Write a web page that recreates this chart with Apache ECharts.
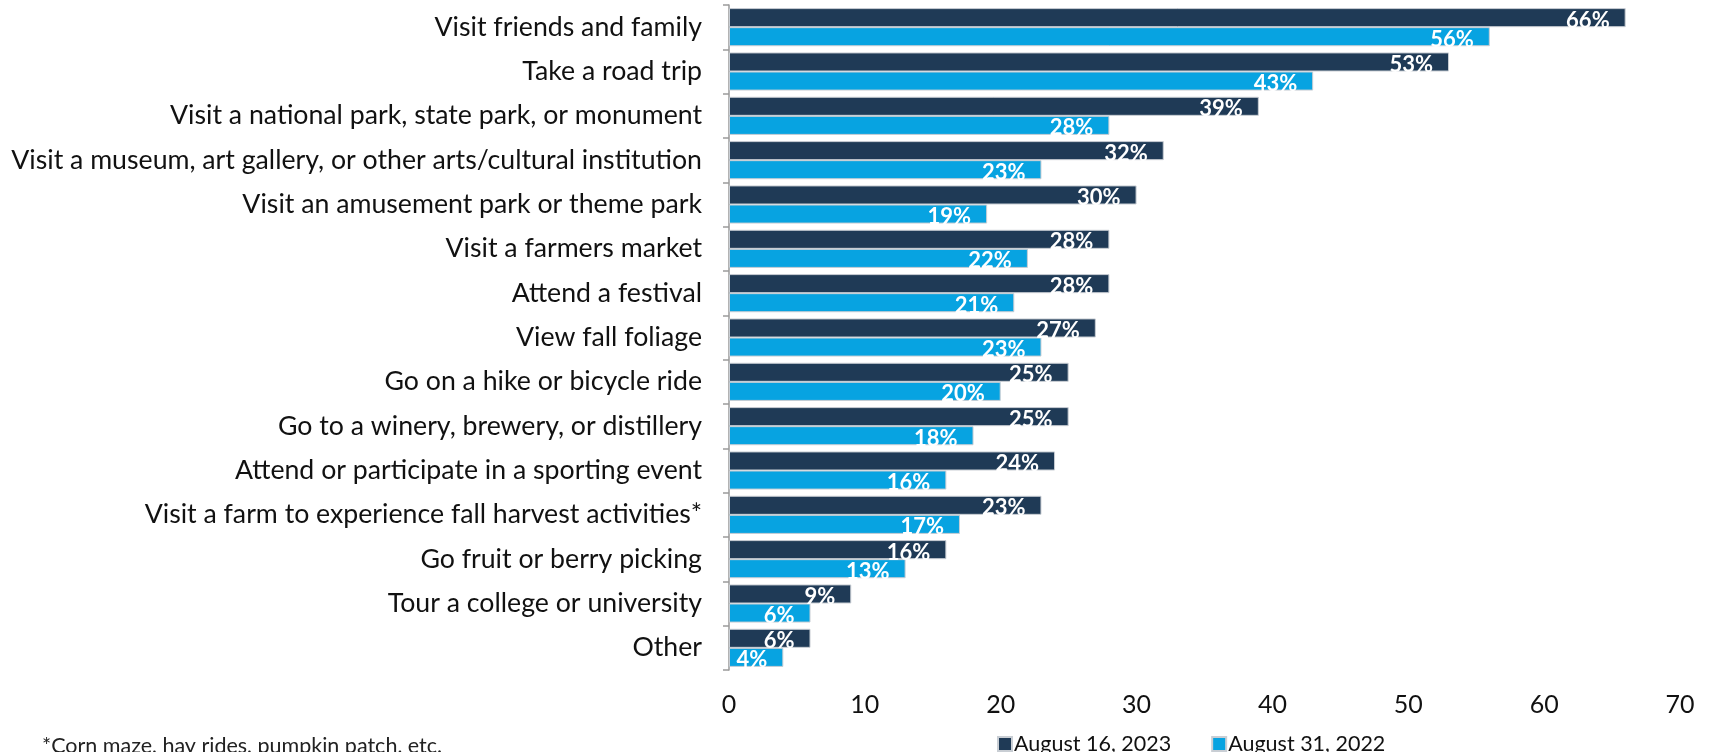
<!DOCTYPE html>
<html>
<head>
<meta charset="utf-8">
<script src="https://cdn.jsdelivr.net/npm/echarts@6/dist/echarts.min.js"></script>
<style>
  html, body { margin: 0; padding: 0; background: #fff; }
  #chart { width: 1713px; height: 752px; }
</style>
</head>
<body>
<div id="chart"></div>
<script>
// Fall activities, listed top to bottom
const categories = [
  'Visit friends and family',
  'Take a road trip',
  'Visit a national park, state park, or monument',
  'Visit a museum, art gallery, or other arts/cultural institution',
  'Visit an amusement park or theme park',
  'Visit a farmers market',
  'Attend a festival',
  'View fall foliage',
  'Go on a hike or bicycle ride',
  'Go to a winery, brewery, or distillery',
  'Attend or participate in a sporting event',
  'Visit a farm to experience fall harvest activities*',
  'Go fruit or berry picking',
  'Tour a college or university',
  'Other'
];
const seriesNames = ['August 16, 2023', 'August 31, 2022'];
const values2023 = [66, 53, 39, 32, 30, 28, 28, 27, 25, 25, 24, 23, 16, 9, 6];
const values2022 = [56, 43, 28, 23, 19, 22, 21, 23, 20, 18, 16, 17, 13, 6, 4];
const axisTicks = [0, 10, 20, 30, 40, 50, 60, 70];
const footnote = '*Corn maze, hay rides, pumpkin patch, etc.';

const FONT = 'Lato, "Open Sans", sans-serif';
const DARK = '#1f3a56';
const LIGHT = '#07a3e1';

const chart = echarts.init(document.getElementById('chart'));

function barSeries(name, data, color) {
  return {
    name: name,
    type: 'bar',
    data: data,
    barGap: '0%',
    barCategoryGap: '14%',
    itemStyle: { color: color, borderColor: '#c9ced4', borderWidth: 1 },
    label: {
      show: true,
      position: 'insideRight',
      distance: 16,
      offset: [0, 3],
      formatter: p => p.value + '%',
      color: '#fff',
      fontFamily: FONT,
      fontWeight: 'bold',
      fontSize: 22
    },
    animation: false
  };
}

chart.setOption({
  animation: false,
  textStyle: { fontFamily: FONT },
  grid: { left: 729, right: 33, top: 5, bottom: 82, containLabel: false },
  legend: {
    data: seriesNames,
    left: 992,
    top: 728,
    itemWidth: 14,
    itemHeight: 14,
    itemGap: 40,
    icon: 'rect',
    textStyle: { fontFamily: FONT, fontSize: 21.5, color: '#111', padding: [0, 0, 0, -3] }
  },
  xAxis: {
    type: 'value',
    min: axisTicks[0],
    max: axisTicks[axisTicks.length - 1],
    interval: axisTicks[1] - axisTicks[0],
    splitLine: { show: false },
    axisLine: { show: false },
    axisTick: { show: false },
    axisLabel: { color: '#111', fontSize: 25, fontFamily: FONT, margin: 22 }
  },
  yAxis: {
    type: 'category',
    data: categories,
    inverse: true,
    axisLine: { show: true, lineStyle: { color: '#9a9a9a', width: 1.5 } },
    axisTick: { show: true, length: 6, lineStyle: { color: '#9a9a9a', width: 1.5 } },
    axisLabel: { color: '#111', fontSize: 26.7, fontFamily: FONT, margin: 27 }
  },
  series: [
    barSeries(seriesNames[0], values2023, DARK),
    barSeries(seriesNames[1], values2022, LIGHT)
  ],
  graphic: [{
    type: 'text',
    left: 42,
    top: 735,
    style: { text: footnote, fontFamily: FONT, fontSize: 21.5, fill: '#222' }
  }]
});
</script>
</body>
</html>
